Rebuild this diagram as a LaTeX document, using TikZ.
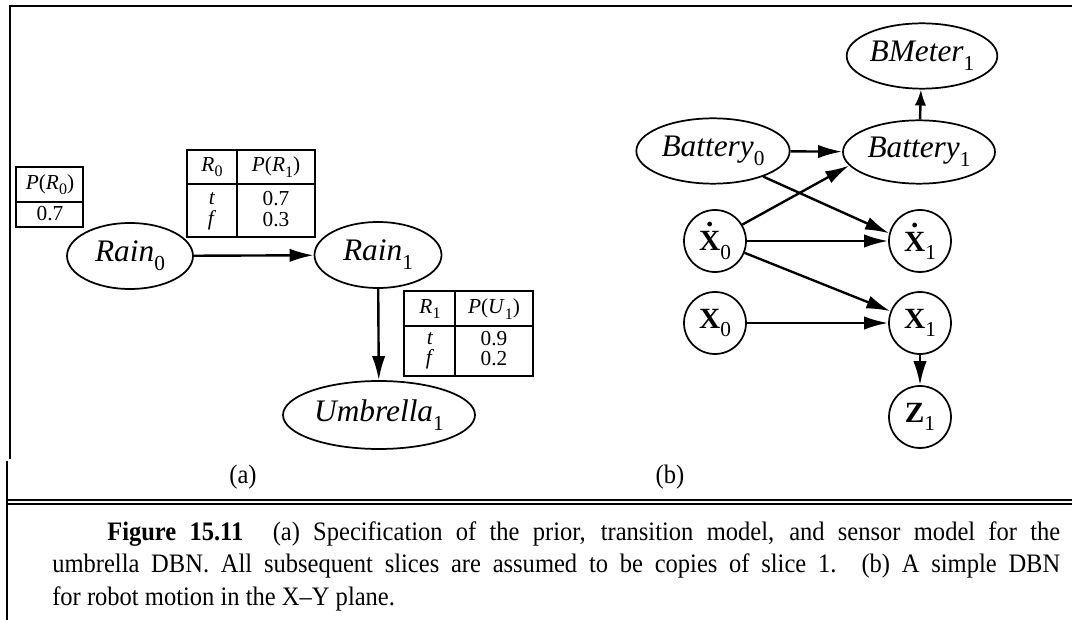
\documentclass[tikz,border=0pt]{standalone}
\usepackage{fontspec}
\setmainfont{Liberation Serif}
\newfontfamily\capfont[FakeStretch=0.92]{Liberation Serif}
\usetikzlibrary{shapes.geometric,arrows.meta}
\newcommand\nsub[1]{\raisebox{-0.28em}{\fontsize{16}{16}\selectfont\upshape\mdseries #1}}
\newcommand\tsub[1]{\raisebox{-0.25em}{\fontsize{12}{12}\selectfont\upshape #1}}
\newcommand\dotX{\leavevmode\rlap{\hbox to \fontcharwd\font`X{\hss\raisebox{0.82em}{.}\hss}}X}
\tikzset{
  rv/.style={draw, ellipse, line width=1.3pt, inner sep=0pt, font=\fontsize{23.5}{23.5}\selectfont\itshape},
  rc/.style={draw, circle, line width=1.3pt, minimum size=46.5pt, inner sep=0pt, font=\fontsize{22}{22}\selectfont\bfseries},
  arr/.style={-{Latex[length=18pt,width=10pt]}, line width=1.8pt},
  arrs/.style={-{Latex[length=12pt,width=8.5pt]}, line width=1.8pt},
  cpt/.style={draw, line width=0.8pt},
  tt/.style={font=\fontsize{16}{16}\selectfont, inner sep=0pt},
  frameline/.style={line width=1.1pt},
  captext/.style={font=\capfont\fontsize{20}{20}\selectfont, inner sep=0pt},
}
\begin{document}
\begin{tikzpicture}[x=0.75pt,y=-0.75pt]
\useasboundingbox (0,0) rectangle (1072,620);
% frame
\draw[frameline] (1072,6) -- (10,6) -- (10,459);
\draw[frameline] (7,461) -- (7,620);
\draw[frameline] (7,500) -- (1072,500);
\draw[frameline] (7,504) -- (1072,504);

% ---------- (a) ----------
\node[rv, minimum width=94.5pt, minimum height=49.5pt] (rain0) at (130,256) {Rain\nsub{0}};
\node[rv, minimum width=95.25pt, minimum height=49.5pt] (rain1) at (378,255) {Rain\nsub{1}};
\node[rv, minimum width=144pt, minimum height=51pt] (umb1) at (379,415) {Umbrella\nsub{1}};
\draw[arr] (rain0) -- (rain1);
\draw[arr] (rain1) -- (umb1);

% table P(R0)
\draw[cpt] (16,167) rectangle (83,227);
\draw[cpt] (16,202) -- (83,202);
\node[tt] (tp0) at (50,185) {\textit{P}(\textit{R}\tsub{0})};
\node[tt] (tp0v) at (50,214) {0.7};

% table R0 / P(R1)
\draw[cpt] (187,150) rectangle (315,237);
\draw[cpt] (237,150) -- (237,237);
\draw[cpt] (187,184) -- (315,184);
\node[tt] (ta1) at (212,167) {\textit{R}\tsub{0}};
\node[tt] (ta2) at (276,167) {\textit{P}(\textit{R}\tsub{1})};
\node[tt] (ta3) at (212,199) {\textit{t}};
\node[tt] (ta4) at (212,220) {\textit{f}};
\node[tt] (ta5) at (276,199) {0.7};
\node[tt] (ta6) at (276,220) {0.3};

% table R1 / P(U1)
\draw[cpt] (404,291) rectangle (533,376);
\draw[cpt] (455,291) -- (455,376);
\draw[cpt] (404,326) -- (533,326);
\node[tt] (tb1) at (430,309) {\textit{R}\tsub{1}};
\node[tt] (tb2) at (494,309) {\textit{P}(\textit{U}\tsub{1})};
\node[tt] (tb3) at (430,339) {\textit{t}};
\node[tt] (tb4) at (430,359) {\textit{f}};
\node[tt] (tb5) at (494,339) {0.9};
\node[tt] (tb6) at (494,359) {0.2};

% ---------- (b) ----------
\node[rv, minimum width=113pt, minimum height=49pt] (bm1) at (922,56) {BMeter\nsub{1}};
\node[rv, minimum width=114pt, minimum height=47.5pt] (bat1) at (919,152) {Battery\nsub{1}};
\node[rv, minimum width=115pt, minimum height=49pt] (bat0) at (713,151) {Battery\nsub{0}};
\node[rc] (xd0) at (715,241) {\dotX\nsub{0}};
\node[rc] (xd1) at (920,241) {\dotX\nsub{1}};
\node[rc] (x0) at (715,323) {X\nsub{0}};
\node[rc] (x1) at (920,323) {X\nsub{1}};
\node[rc] (z1) at (920,417) {Z\nsub{1}};

\draw[arrs] (bat1) -- (bm1);
\draw[arr] (bat0) -- (bat1);
\draw[arr] (xd0.31) -- (bat1.191);
\draw[arr] (bat0.333) -- (xd1.166);
\draw[arr] (xd0) -- (xd1);
\draw[arr] (xd0) -- (x1);
\draw[arr] (x0) -- (x1);
\draw[arr] (x1) -- (z1);

% sub-labels
\node[captext] (la) at (243,477) {(a)};
\node[captext] (lb) at (670,477) {(b)};

% caption
\node[captext, anchor=base west] (c1) at (107,540) {\makebox[714.75pt][s]{\textbf{Figure 15.11}\hspace{22pt}(a) Specification of the prior, transition model, and sensor model for the}};
\node[captext, anchor=base west] (c2) at (52,572) {\makebox[756pt][s]{umbrella DBN. All subsequent slices are assumed to be copies of slice 1. (b) A simple DBN}};
\node[captext, anchor=base west] (c3) at (52,605) {for robot motion in the X–Y plane.};
\end{tikzpicture}
\end{document}
